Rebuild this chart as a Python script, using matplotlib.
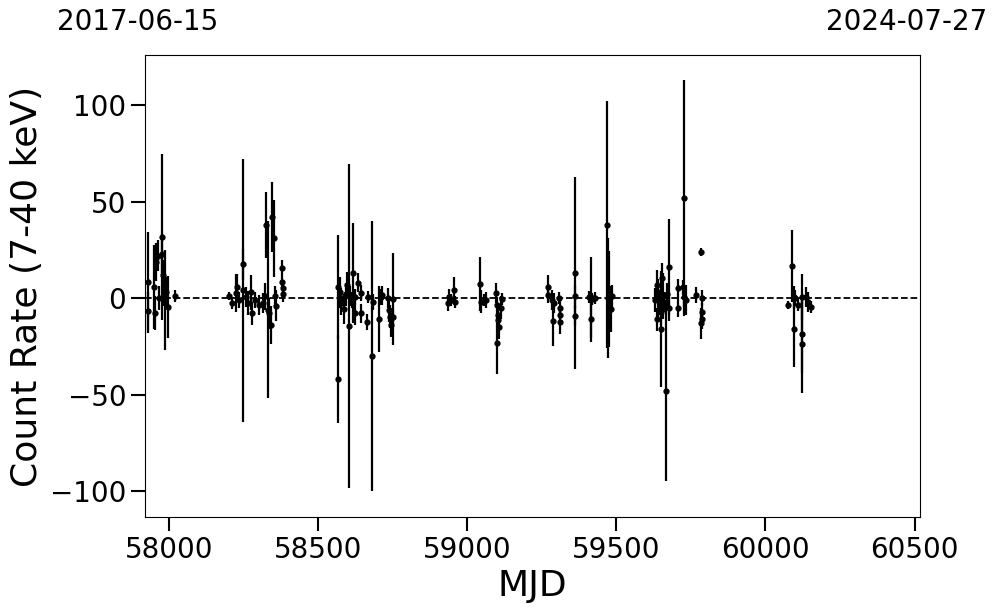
import matplotlib
matplotlib.use('Agg')
import matplotlib.pyplot as plt
import numpy as np

# light curve points: MJD, count rate, 1-sigma error
mjd = [57930, 57930, 57950, 57953, 57957, 57963, 57967, 57977, 57977, 57980,
       57983, 57987, 57990, 57997, 58020,
       58200, 58211, 58224, 58227, 58234, 58247, 58247, 58257, 58264, 58274,
       58277, 58287, 58301, 58314, 58321, 58324, 58331, 58334, 58341, 58344,
       58351, 58354, 58358, 58378, 58378, 58381, 58381,
       58568, 58568, 58572, 58575, 58578, 58585, 58592, 58598, 58602, 58608,
       58612, 58618, 58625, 58625, 58635, 58642, 58645, 58665, 58668, 58682,
       58685, 58705, 58709, 58715, 58735, 58739, 58742, 58745, 58752, 58752,
       58934, 58938, 58944, 58954, 58958,
       59042, 59046, 59056, 59062, 59096, 59099, 59099, 59103, 59103, 59106,
       59113, 59116,
       59271, 59271, 59284, 59287, 59291, 59307, 59311, 59311, 59311,
       59362, 59362, 59362, 59409, 59415, 59415, 59419, 59429, 59470, 59473,
       59476, 59482, 59485,
       59628, 59635, 59635, 59638, 59641, 59645, 59648, 59651, 59654, 59658,
       59661, 59668, 59671, 59675, 59675, 59708, 59708, 59722, 59728, 59728,
       59732, 59768, 59785, 59788, 59788, 59788, 59785,
       60077, 60090, 60094, 60097, 60100, 60110, 60124, 60124, 60124, 60137,
       60144, 60151]
rate = [8.1, -6.7, 5.7, -7.8, 18.6, 22, 0, 31.6, 23, 12,
        7.8, -1, 3, -4.7, 1,
        1, -2.6, 2.6, 5.7, -1, 17.6, 4, 0.5, -2.6, 3,
        -7.8, -1, -3.6, -2.6, 1, 37.8, -6, -7.8, -14, 42,
        31, 1, -4, 15.5, 8.3, 5, 2,
        5.8, -42, 3, 0, -2.6, -5.7, 2, 6.7, -14.5, 1,
        -1, 13, 0.5, -7.8, 8, 2.6, -8, -12.4, 0.5, -30,
        -2, -11, 0.5, 1.5, 0, -6.2, -9.7, -14, -0.5, -9.7,
        -2.6, 0.5, -1, 4, -2,
        7.2, -2, -1, -1, 2.6, -23.5, -3.6, -8.8, -11.4, -15,
        -5, -0.5,
        5.7, 1.5, -1, -12, -2.6, 0, -5, -8.8, -12.4,
        13, 1, -9.3, 0.5, 0.5, -11, -0.5, 0, 38, 0,
        -0.5, -5.7, 1,
        -1, 6.7, -11, 0, 3, -3, -16, -7.2, 10.4, 1,
        -2, -48, 2, 16, -5, 5, -5, 5.5, 51.8, 0.5,
        -1, 1.5, 24, 0, -7.4, -11, -13,
        -3.6, 16.6, 0.5, -16, 0, -3.6, 0.5, -18.7, -24, 0.5,
        -2, -4.6]
err = [26, 10, 22, 9, 10, 8, 6, 43, 10, 6,
       12, 26, 8, 16, 3,
       2, 3, 10, 7, 4, 8, 68, 5, 6, 9,
       6, 4, 5, 5, 7, 17, 46, 8, 10, 18,
       20, 5, 8, 4, 3, 3, 4,
       27, 23, 8, 5, 6, 8, 6, 7, 84, 5,
       4, 26, 4, 6, 5, 4, 5, 4, 3, 70,
       4, 17, 4, 5, 5, 6, 6, 6, 24, 4,
       4, 4, 3, 7, 3,
       14, 6, 3, 4, 5, 16, 4, 5, 5, 6,
       6, 3,
       6, 4, 5, 13, 5, 3, 4, 4, 6,
       50, 6, 5, 3, 21, 12, 3, 3, 64, 31,
       25, 12, 6,
       6, 8, 6, 10, 5, 6, 30, 7, 8, 12,
       5, 47, 6, 25, 7, 5, 5, 4, 61, 5,
       8, 4, 2, 4, 5, 5, 8,
       2, 18.6, 6, 19.7, 4, 3, 12, 20, 25, 5,
       5, 3]

start_label = '2017-06-15'
end_label = '2024-07-27'

fig = plt.figure(figsize=(9.97, 6.13), dpi=100)
ax = fig.add_axes([0.1454, 0.1566, 0.7773, 0.7537])

ax.errorbar(mjd, rate, yerr=err, fmt='o', color='black', ecolor='black',
            markersize=3.5, elinewidth=1.6, capsize=0)
ax.axhline(0, color='black', linestyle='--', linewidth=1.3)

ax.set_xlim(57919, 60518)
ax.set_ylim(-113.5, 126)
ax.set_xticks([58000, 58500, 59000, 59500, 60000, 60500])
ax.set_yticks([-100, -50, 0, 50, 100])
ax.tick_params(axis='both', which='major', labelsize=20, length=10, width=1.5)
ax.set_xlabel('MJD', fontsize=26)
ax.set_ylabel('Count Rate (7-40 keV)', fontsize=26)

fig.text(57 / 997, 0.964, start_label, fontsize=20, ha='left', va='center')
fig.text(987 / 997, 0.964, end_label, fontsize=20, ha='right', va='center')

fig.savefig('out.png', dpi=100)
